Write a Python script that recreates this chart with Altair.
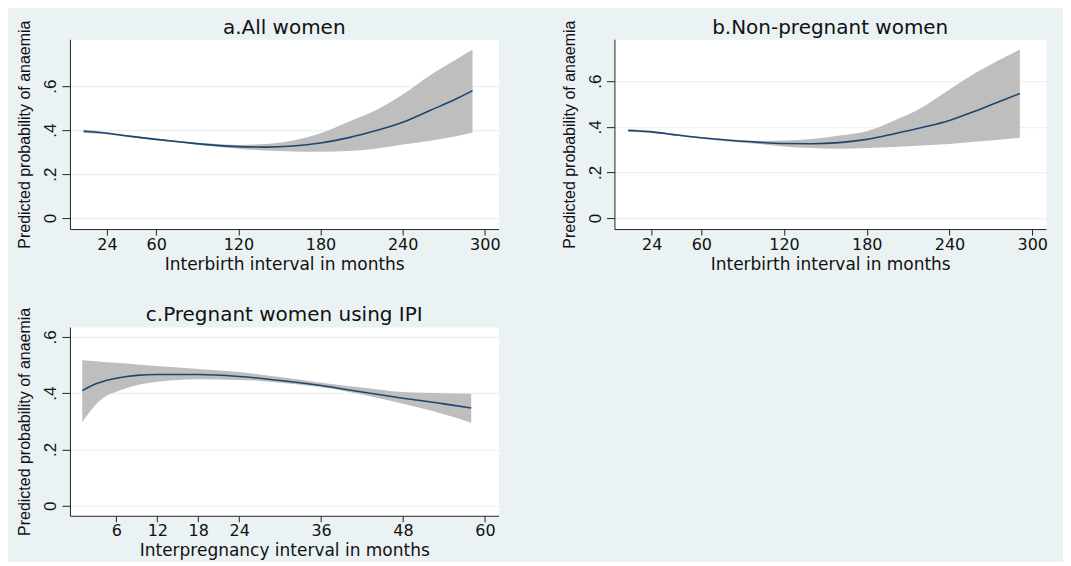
import altair as alt
import pandas as pd

# ---------------- data ----------------
a_x = [7, 24, 40, 60, 80, 100, 120, 140, 160, 180, 200, 220, 240, 260, 280, 291]
a_fit = [.395, .386, .373, .358, .345, .333, .325, .323, .328, .342, .365, .397, .436, .490, .545, .580]
a_hi = [.403, .391, .377, .362, .349, .339, .333, .337, .353, .386, .437, .490, .562, .650, .725, .767]
a_lo = [.387, .381, .369, .354, .340, .327, .316, .307, .303, .302, .305, .316, .335, .352, .374, .390]

b_x = [7, 24, 40, 60, 80, 100, 120, 140, 160, 180, 200, 220, 240, 260, 280, 291]
b_fit = [.384, .378, .366, .352, .341, .333, .327, .326, .331, .345, .370, .397, .428, .472, .520, .546]
b_hi = [.391, .383, .370, .356, .346, .339, .340, .347, .362, .381, .428, .485, .564, .640, .705, .739]
b_lo = [.377, .373, .362, .348, .336, .326, .314, .307, .304, .307, .312, .318, .325, .336, .346, .352]

c_x = [1, 2, 3, 4.5, 6, 9, 12, 18, 24, 30, 36, 42, 48, 54, 58]
c_fit = [.409, .422, .433, .445, .453, .463, .466, .466, .459, .445, .427, .404, .382, .362, .347]
c_hi = [.518, .515, .513, .510, .508, .502, .496, .486, .475, .457, .437, .420, .404, .400, .398]
c_lo = [.297, .330, .360, .390, .405, .428, .440, .449, .447, .437, .421, .395, .362, .325, .295]

titles = ["a.All women", "b.Non-pregnant women", "c.Pregnant women using IPI"]
x_titles = ["Interbirth interval in months", "Interbirth interval in months",
            "Interpregnancy interval in months"]
y_title = "Predicted probability of anaemia"
ib_ticks = [24, 60, 120, 180, 240, 300]
ip_ticks = [6, 12, 18, 24, 36, 48, 60]
y_ticks = [0, 0.2, 0.4, 0.6]

BG = "#eaf2f3"
LINE = "#1a476f"
BAND = "#bebebe"
HFONT = "DejaVu Sans"
VFONT = "Liberation Sans"


def panel(xs, fit, lo, hi, title, xtitle, xticks, xdom, ydom, w, h):
    df = pd.DataFrame({"x": xs, "fit": fit, "lo": lo, "hi": hi})
    xenc = alt.X("x:Q", scale=alt.Scale(domain=xdom, nice=False, zero=False),
                 axis=alt.Axis(values=xticks, title=xtitle, grid=False,
                               labelFont=HFONT, labelFontSize=16, labelColor="#111",
                               titleFont=HFONT, titleFontSize=17, titleFontWeight="normal",
                               titleColor="#111", tickSize=6, labelPadding=1,
                               titlePadding=4, domainColor="#222", tickColor="#222",
                               labelFlush=False))
    yax = alt.Axis(values=y_ticks, title=y_title, grid=True, gridColor=BG, gridWidth=1.2,
                   labelAngle=-90, labelAlign="center", labelBaseline="bottom",
                   labelExpr="datum.value == 0 ? '0' : substring(format(datum.value, '.1f'), 1)",
                   labelFont=VFONT, labelFontSize=17, labelColor="#111",
                   titleFont=VFONT, titleFontSize=16, titleFontWeight="normal",
                   titleColor="#111", tickSize=8, labelPadding=2, titlePadding=9,
                   domainColor="#222", tickColor="#222")
    yscale = alt.Scale(domain=ydom, nice=False, zero=False)
    base = alt.Chart(df)
    band = base.mark_area(color=BAND, opacity=1, interpolate="monotone").encode(
        x=xenc, y=alt.Y("lo:Q", scale=yscale, axis=yax), y2="hi:Q")
    line = base.mark_line(color=LINE, strokeWidth=1.6, interpolate="monotone").encode(
        x="x:Q", y="fit:Q")
    return alt.layer(band, line).properties(
        width=w, height=h,
        title=alt.TitleParams(title, font=HFONT, fontSize=20, fontWeight="normal",
                              color="#111", anchor="middle", frame="group", offset=-18))


pa = panel(a_x, a_fit, a_lo, a_hi, titles[0], x_titles[0], ib_ticks, [-3, 310], [-0.05, 0.814], 429, 190)
pb = panel(b_x, b_fit, b_lo, b_hi, titles[1], x_titles[1], ib_ticks, [-3, 310], [-0.048, 0.784], 432, 190)
pc = panel(c_x, c_fit, c_lo, c_hi, titles[2], x_titles[2], ip_ticks, [-0.8, 62], [-0.0355, 0.635], 429, 189)

chart = alt.vconcat(alt.hconcat(pa, pb, spacing=59), pc, spacing=31).properties(
    background=BG, padding={"left": 8, "top": 9, "right": 15, "bottom": 2}
).configure_view(fill="white", stroke="transparent")

chart.save("out.html", embed_options={"renderer": "svg", "actions": False})
